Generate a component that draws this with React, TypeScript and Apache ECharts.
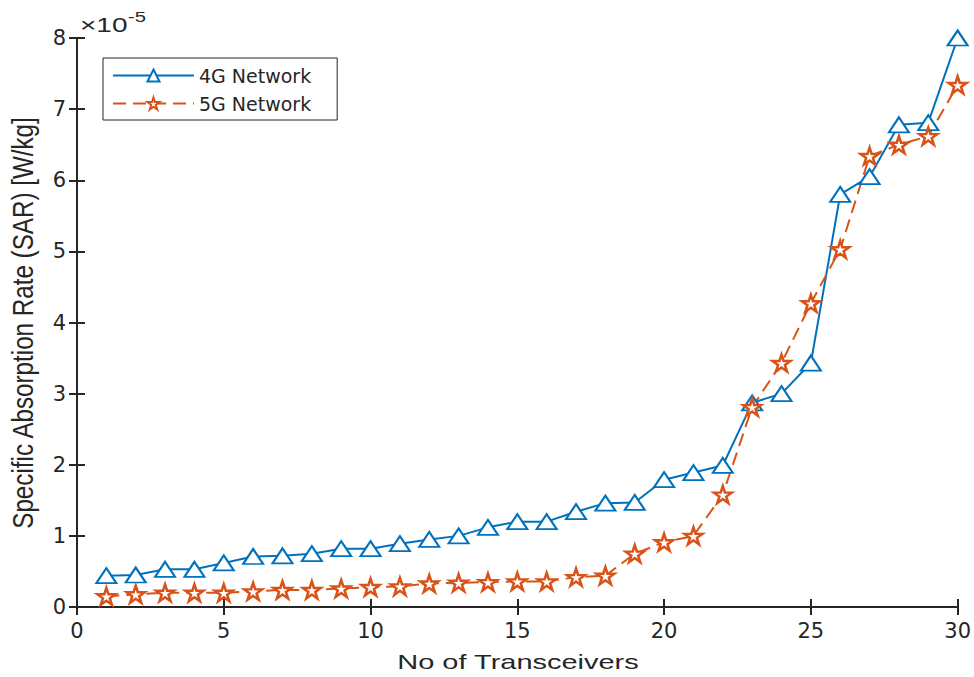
import React, { useEffect, useRef } from "react";
import * as echarts from "echarts";

// Number of transceivers (x) and SAR in units of 1e-5 W/kg (y)
const transceivers = [
  1, 2, 3, 4, 5, 6, 7, 8, 9, 10, 11, 12, 13, 14, 15,
  16, 17, 18, 19, 20, 21, 22, 23, 24, 25, 26, 27, 28, 29, 30,
];
const sar4G = [
  0.44, 0.45, 0.53, 0.53, 0.62, 0.71, 0.72, 0.75, 0.82, 0.82,
  0.89, 0.95, 1.0, 1.12, 1.2, 1.2, 1.34, 1.46, 1.47, 1.79,
  1.89, 1.99, 2.87, 3.0, 3.43, 5.8, 6.05, 6.78, 6.81, 8.0,
];
const sar5G = [
  0.15, 0.18, 0.2, 0.2, 0.2, 0.22, 0.24, 0.24, 0.26, 0.28,
  0.29, 0.33, 0.34, 0.35, 0.36, 0.36, 0.42, 0.44, 0.75, 0.91,
  1.0, 1.58, 2.81, 3.43, 4.27, 5.03, 6.34, 6.5, 6.62, 7.34,
];
const seriesNames = ["4G Network", "5G Network"];

const BLUE = "#0072BD";
const ORANGE = "#D95319";
const AXIS = "#262626";
const FONT = "DejaVu Sans";
const TITLE_FONT = "Liberation Sans";

const STAR =
  "path://M10 0 L12.245 6.910 L19.511 6.910 L13.633 11.180 L15.878 18.090 L10 13.82 L4.122 18.090 L6.367 11.180 L0.489 6.910 L7.755 6.910 Z";

const pairs = (ys: number[]) => transceivers.map((x, i) => [x, ys[i]]);

export default function App() {
  const ref = useRef<HTMLDivElement>(null);

  useEffect(() => {
    if (!ref.current) return;
    const chart = echarts.init(ref.current, null, { renderer: "svg" });

    const frameAxis = {
      axisLine: { show: true, lineStyle: { color: AXIS, width: 2 } },
      axisTick: { show: true, inside: true, length: 8, lineStyle: { color: AXIS, width: 2 } },
      splitLine: { show: false },
    };

    chart.setOption({
      animation: false,
      backgroundColor: "#ffffff",
      grid: { left: 77, right: 15, top: 38, bottom: 70 },
      xAxis: [
        {
          type: "value",
          min: 0,
          max: 30,
          interval: 5,
          position: "bottom",
          ...frameAxis,
          axisLabel: { color: AXIS, fontFamily: FONT, fontSize: 21, margin: 13 },
        },
        {
          type: "value",
          min: 0,
          max: 30,
          interval: 5,
          position: "top",
          ...frameAxis,
          axisLabel: { show: false },
        },
      ],
      yAxis: [
        {
          type: "value",
          min: 0,
          max: 8,
          interval: 1,
          position: "left",
          ...frameAxis,
          axisLabel: { color: AXIS, fontFamily: FONT, fontSize: 21, margin: 11 },
        },
        {
          type: "value",
          min: 0,
          max: 8,
          interval: 1,
          position: "right",
          ...frameAxis,
          axisLabel: { show: false },
        },
      ],
      legend: {
        left: 103,
        top: 58,
        orient: "vertical",
        backgroundColor: "#ffffff",
        borderColor: AXIS,
        borderWidth: 1,
        borderRadius: 0,
        padding: [8, 26, 7, 9],
        itemWidth: 81,
        itemHeight: 15,
        itemGap: 9,
        textStyle: { color: AXIS, fontFamily: FONT, fontSize: 19 },
        data: seriesNames,
      },
      series: [
        {
          name: seriesNames[0],
          type: "line",
          data: pairs(sar4G),
          symbol: "emptyTriangle",
          symbolSize: [20, 15],
          color: BLUE,
          lineStyle: { color: BLUE, width: 2 },
          itemStyle: { color: BLUE, borderColor: BLUE, borderWidth: 2 },
        },
        {
          name: seriesNames[1],
          type: "line",
          data: pairs(sar5G),
          symbol: STAR,
          symbolSize: [18, 17],
          color: ORANGE,
          lineStyle: { color: ORANGE, width: 2, type: [13, 7] },
          itemStyle: { color: "#ffffff", borderColor: ORANGE, borderWidth: 2.5 },
        },
      ],
      graphic: [
        {
          type: "text",
          x: 518,
          y: 662,
          scaleX: 1.38,
          style: {
            text: "No of Transceivers",
            fill: AXIS,
            font: `21px '${TITLE_FONT}'`,
            textAlign: "center",
            textVerticalAlign: "middle",
          },
        },
        {
          type: "text",
          x: 23,
          y: 323,
          rotation: Math.PI / 2,
          scaleX: 1.1,
          scaleY: 1.3,
          style: {
            text: "Specific Absorption Rate (SAR) [W/kg]",
            fill: AXIS,
            font: `22px '${TITLE_FONT}'`,
            textAlign: "center",
            textVerticalAlign: "middle",
          },
        },
        {
          type: "text",
          x: 80,
          y: 25,
          scaleX: 1.4,
          style: {
            text: "×10",
            fill: AXIS,
            font: `20px '${TITLE_FONT}'`,
            textAlign: "left",
            textVerticalAlign: "middle",
          },
        },
        {
          type: "text",
          x: 128,
          y: 17,
          scaleX: 1.35,
          style: {
            text: "-5",
            fill: AXIS,
            font: `15px '${TITLE_FONT}'`,
            textAlign: "left",
            textVerticalAlign: "middle",
          },
        },
      ],
    });

    return () => chart.dispose();
  }, []);

  return (
    <div
      ref={ref}
      style={{ position: "fixed", left: 0, top: 0, width: 974, height: 677 }}
    />
  );
}
